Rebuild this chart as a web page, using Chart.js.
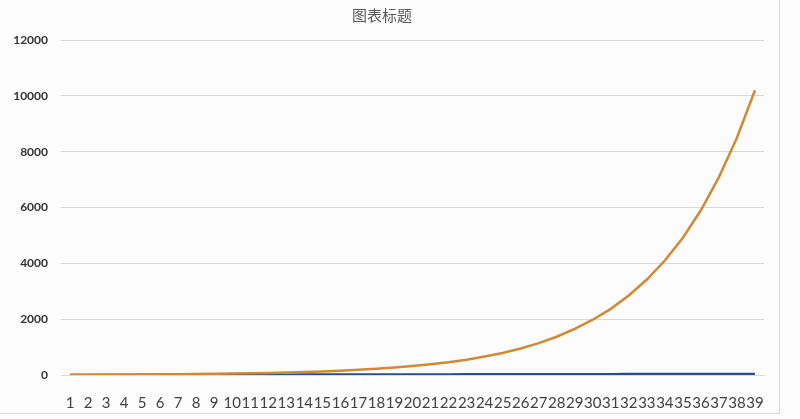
<!DOCTYPE html>
<html>
<head>
<meta charset="utf-8">
<script src="https://cdn.jsdelivr.net/npm/chart.js@4"></script>
<style>
  html, body { margin: 0; padding: 0; background: #fcfcfc; }
  #box {
    position: absolute; left: 0; top: 0;
    width: 779px; height: 413px;
    border-right: 1px solid #d9d9d9;
    border-bottom: 1px solid #d9d9d9;
  }
</style>
</head>
<body>
<div id="box"><canvas id="chart"></canvas></div>
<script>
const categories = ["1","2","3","4","5","6","7","8","9","10","11","12","13","14","15","16","17","18","19","20",
  "21","22","23","24","25","26","27","28","29","30","31","32","33","34","35","36","37","38","39"];

const blueValues = [1, 2, 3, 4, 5, 6, 7, 8, 9, 10, 11, 12, 13, 14, 15, 16, 17, 18, 19, 20,
  21, 22, 23, 24, 25, 26, 27, 28, 29, 30, 31, 32, 33, 34, 35, 36, 37, 38, 39];

const orangeValues = [10, 12, 14, 17, 21, 25, 30, 36, 43, 52, 62, 74, 89, 107, 128, 154, 185, 220, 265, 320,
  385, 460, 550, 660, 790, 950, 1140, 1370, 1650, 1980, 2370, 2850, 3420, 4100, 4920, 5900, 7090, 8500, 10200];

const yTicks = [0, 2000, 4000, 6000, 8000, 10000, 12000];

const gridColor = "#d9d9d9";

new Chart(document.getElementById("chart"), {
  type: "line",
  data: {
    labels: categories,
    datasets: [
      {
        label: "系列1",
        data: blueValues,
        borderColor: "#2b4c86",
        borderWidth: 2.5,
        pointRadius: 0,
        tension: 0,
        order: 2,
      },
      {
        label: "系列2",
        data: orangeValues,
        borderColor: "#d08a36",
        borderWidth: 2.5,
        pointRadius: 0,
        tension: 0,
        order: 1,
      },
    ],
  },
  options: {
    responsive: true,
    maintainAspectRatio: false,
    animation: false,
    layout: { padding: { left: 0, right: 15, top: 0, bottom: 0 } },
    plugins: {
      legend: { display: false },
      tooltip: { enabled: false },
      title: {
        display: true,
        text: "图表标题",
        color: "#595959",
        font: { family: "'Noto Sans CJK SC'", size: 15, weight: "normal" },
        padding: { top: 6, bottom: 16 },
      },
    },
    scales: {
      x: {
        offset: true,
        grid: { display: false },
        border: { display: true, color: gridColor, width: 1 },
        ticks: {
          autoSkip: false,
          maxRotation: 0,
          minRotation: 0,
          padding: 11,
          color: "#404040",
          font: { family: "Lato", size: 15 },
        },
        afterFit: (scale) => { scale.height = 38; },
      },
      y: {
        min: 0,
        max: 12000,
        afterBuildTicks: (scale) => { scale.ticks = yTicks.map((v) => ({ value: v })); },
        grid: { color: gridColor, drawTicks: false },
        border: { display: false },
        ticks: {
          padding: 13,
          color: "#333333",
          font: { family: "Lato", size: 12, weight: "bold" },
          callback: (value) => String(value),
        },
        afterFit: (scale) => { scale.width = 61; },
      },
    },
  },
});
</script>
</body>
</html>
